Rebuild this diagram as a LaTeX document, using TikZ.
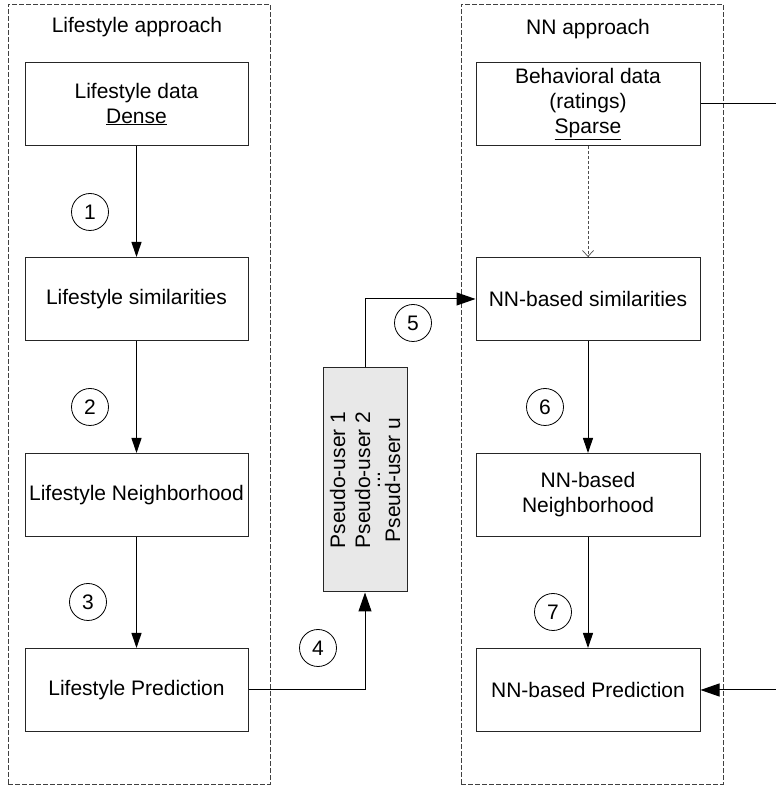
\documentclass[tikz,border=0pt]{standalone}
\usepackage{fontspec}
\setmainfont{Liberation Sans}
\usetikzlibrary{arrows.meta}
\begin{document}
\begin{tikzpicture}[x=1pt,y=1pt,
  font=\fontsize{21pt}{25pt}\selectfont,
  container/.style={draw=black!75, line width=0.9pt, dash pattern=on 5pt off 2pt},
  procbox/.style={draw=black!85, line width=1pt, minimum width=223pt, minimum height=83pt, align=center, inner sep=0pt},
  numcirc/.style={draw=black, line width=0.8pt, circle, minimum size=37pt, inner sep=0pt},
  smallarrow/.style={draw=black, line width=1pt, -{Triangle[length=15pt,width=10pt]}},
  bigarrow/.style={draw=black, line width=1pt, -{Triangle[length=19pt,width=13pt]}},
  title/.style={inner sep=0pt}
]
\useasboundingbox (0,0) rectangle (776,788);
% containers
\node[container, minimum width=262pt, minimum height=780pt, inner sep=0pt] (leftc) at (139,394) {};
\node[container, minimum width=262pt, minimum height=780pt, inner sep=0pt] (rightc) at (592,394) {};
\node[title] (lt) at (137,761) {Lifestyle approach};
\node[title] (rt) at (588,759) {NN approach};
% left boxes
\node[procbox] (ldata) at (136.5,684) {Lifestyle data\\\underline{Dense}};
\node[procbox] (lsim) at (136.5,489) {Lifestyle similarities};
\node[procbox] (lnb) at (136.5,293) {Lifestyle Neighborhood};
\node[procbox] (lpred) at (136.5,98) {Lifestyle Prediction};
% right boxes
\node[procbox, minimum width=224pt] (bdata) at (588,684) {Behavioral data\\(ratings)\\\underline{Sparse}};
\node[procbox, minimum width=224pt] (nsim) at (588,489) {NN-based similarities};
\node[procbox, minimum width=224pt] (nnb) at (588,293) {NN-based\\Neighborhood};
\node[procbox, minimum width=224pt] (npred) at (588,98) {NN-based Prediction};
% pseudo users box
\node[draw=black!85, line width=1pt, fill=black!9, minimum width=84pt, minimum height=224pt, inner sep=0pt] (pseudo) at (365,308) {};
\node[rotate=90, align=center, inner sep=0pt] (ptext) at (pseudo.center) {Pseudo-user 1\\Pseudo-user 2\\[-15pt]...\\[-5pt]Pseud-user u};
% numbers
\node[numcirc] (c1) at (90,576) {1};
\node[numcirc] (c2) at (90,381) {2};
\node[numcirc] (c3) at (88,186) {3};
\node[numcirc] (c4) at (318,140) {4};
\node[numcirc] (c5) at (413,465) {5};
\node[numcirc] (c6) at (545,381) {6};
\node[numcirc] (c7) at (553,176) {7};
% arrows left
\draw[smallarrow] (ldata.south) -- (lsim.north);
\draw[smallarrow] (lsim.south) -- (lnb.north);
\draw[smallarrow] (lnb.south) -- (lpred.north);
% arrows right
\draw[draw=black!70, line width=1pt, densely dashed, -{Straight Barb[length=6pt,width=11pt,line width=0.7pt]}] (bdata.south) -- (nsim.north);
\draw[smallarrow] (nsim.south) -- (nnb.north);
\draw[smallarrow] (nnb.south) -- (npred.north);
% cross arrows
\draw[bigarrow] (lpred.east) -| (pseudo.south);
\draw[bigarrow] (pseudo.north) |- (nsim.west);
\coordinate (edgeTop) at (776,684);
\coordinate (edgeBot) at (776,98);
\draw[draw=black, line width=1pt] (bdata.east) -- (edgeTop);
\draw[bigarrow] (edgeBot) -- (npred.east);
\end{tikzpicture}
\end{document}
